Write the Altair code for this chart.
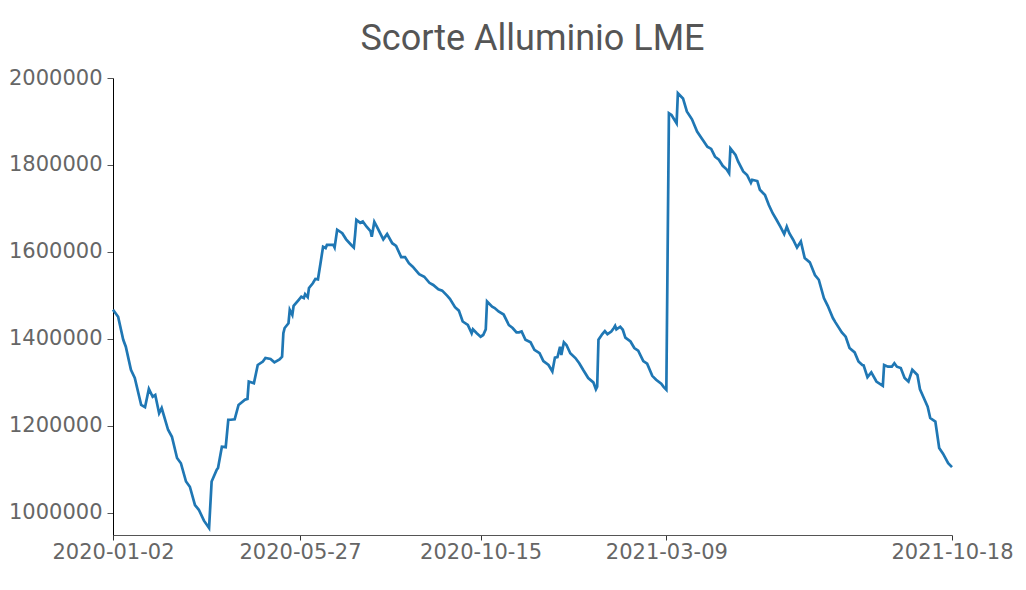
import altair as alt
import pandas as pd

# days since 2020-01-02 and LME aluminium stocks (tonnes)
days = [0, 4, 8, 10, 14, 17, 22, 25, 28, 31, 33, 36, 38, 43, 46, 50, 53, 57, 60, 64,
        67, 71, 75, 77, 81, 82, 85, 88, 90, 92, 95, 98, 103, 105, 106, 110, 113, 117, 119, 123,
        126, 130, 132, 133, 134, 137, 138, 140, 141, 145, 147, 149, 150, 152, 153, 156, 158, 160, 162, 164,
        166, 167, 169, 172, 173, 175, 179, 182, 186, 188, 189, 190, 193, 195, 198, 201, 202, 204, 206, 211,
        214, 218, 221, 225, 228, 231, 234, 239, 243, 247, 250, 254, 257, 261, 263, 267, 270, 273, 277, 280,
        281, 284, 287, 289, 291, 292, 296, 298, 301, 305, 309, 312, 315, 317, 319, 322, 326, 329, 333, 336,
        340, 343, 345, 347, 349, 350, 352, 354, 357, 361, 364, 367, 371, 375, 377, 378, 379, 382, 384, 386,
        389, 391, 392, 393, 396, 398, 400, 404, 407, 410, 414, 417, 421, 424, 428, 430, 432, 434, 436, 440,
        441, 445, 448, 452, 456, 459, 461, 464, 467, 470, 473, 476, 479, 481, 482, 486, 488, 492, 495, 498,
        499, 503, 505, 509, 512, 515, 518, 521, 524, 526, 528, 531, 534, 537, 540, 544, 548, 551, 555, 558,
        562, 564, 569, 572, 575, 579, 582, 585, 586, 589, 592, 596, 601, 602, 605, 608, 610, 612, 615, 618,
        621, 624, 628, 630, 633, 636, 638, 642, 645, 648, 652, 655]

stocks = [1467000, 1451000, 1398000, 1382000, 1329000, 1310000, 1248000, 1243000, 1285000, 1267000,
          1271000, 1229000, 1241000, 1191000, 1175000, 1126000, 1114000, 1072000, 1060000, 1018000,
          1007000, 982000, 965000, 1072000, 1099000, 1103000, 1152000, 1151000, 1214000, 1214000,
          1215000, 1248000, 1260000, 1262000, 1302000, 1298000, 1340000, 1348000, 1356000, 1354000,
          1346000, 1353000, 1359000, 1413000, 1425000, 1436000, 1467000, 1455000, 1476000, 1490000,
          1497000, 1494000, 1503000, 1496000, 1517000, 1528000, 1538000, 1537000, 1574000, 1612000,
          1609000, 1616000, 1616000, 1616000, 1610000, 1651000, 1643000, 1629000, 1616000, 1610000,
          1639000, 1674000, 1667000, 1670000, 1658000, 1648000, 1635000, 1669000, 1658000, 1629000,
          1641000, 1620000, 1614000, 1588000, 1588000, 1574000, 1566000, 1549000, 1543000, 1529000,
          1524000, 1514000, 1511000, 1499000, 1492000, 1473000, 1465000, 1440000, 1432000, 1413000,
          1422000, 1413000, 1405000, 1409000, 1422000, 1486000, 1474000, 1471000, 1463000, 1456000,
          1432000, 1425000, 1415000, 1415000, 1417000, 1398000, 1392000, 1375000, 1367000, 1349000,
          1340000, 1325000, 1357000, 1358000, 1382000, 1363000, 1392000, 1386000, 1367000, 1356000,
          1344000, 1329000, 1310000, 1300000, 1284000, 1290000, 1398000, 1411000, 1418000, 1411000,
          1417000, 1425000, 1430000, 1422000, 1428000, 1421000, 1403000, 1394000, 1379000, 1373000,
          1349000, 1343000, 1315000, 1306000, 1297000, 1289000, 1283000, 1919000, 1915000, 1896000,
          1965000, 1953000, 1923000, 1905000, 1877000, 1864000, 1855000, 1842000, 1837000, 1819000,
          1812000, 1798000, 1790000, 1781000, 1838000, 1823000, 1808000, 1785000, 1777000, 1759000,
          1766000, 1763000, 1743000, 1731000, 1708000, 1689000, 1674000, 1658000, 1641000, 1658000,
          1643000, 1628000, 1610000, 1624000, 1586000, 1576000, 1547000, 1536000, 1494000, 1476000,
          1448000, 1438000, 1415000, 1405000, 1379000, 1369000, 1348000, 1340000, 1339000, 1312000,
          1323000, 1302000, 1292000, 1340000, 1336000, 1336000, 1344000, 1336000, 1333000, 1310000,
          1302000, 1329000, 1317000, 1284000, 1264000, 1244000, 1218000, 1210000, 1149000, 1136000,
          1114000, 1105000]

tick_dates = [(2020, 1, 2), (2020, 5, 27), (2020, 10, 15), (2021, 3, 9), (2021, 10, 18)]
y_ticks = [1000000, 1200000, 1400000, 1600000, 1800000, 2000000]

df = pd.DataFrame({
    "date": pd.Timestamp("2020-01-02") + pd.to_timedelta(days, unit="D"),
    "stock": stocks,
})

def dt(t):
    return alt.DateTime(year=t[0], month=t[1], date=t[2])

chart = alt.Chart(df).mark_line(color="#1f77b4", strokeWidth=2.7).encode(
    x=alt.X("date:T",
            scale=alt.Scale(domain=[dt(tick_dates[0]), dt(tick_dates[-1])], nice=False),
            axis=alt.Axis(values=[dt(t) for t in tick_dates], format="%Y-%m-%d", title=None,
                          grid=False, labelFont="DejaVu Sans", labelFontSize=21,
                          labelColor="#666666", domainColor="#555555", tickColor="#333333",
                          tickSize=5, labelPadding=1, labelFlush=False, labelOverlap=False)),
    y=alt.Y("stock:Q",
            scale=alt.Scale(domain=[949000, 2000000], nice=False, zero=False),
            axis=alt.Axis(values=y_ticks, format="d", title=None, grid=False,
                          labelFont="DejaVu Sans", labelFontSize=21, labelColor="#666666",
                          domainColor="#000000", tickColor="#555555", tickSize=6,
                          labelPadding=5)),
).properties(
    width=839, height=457,
    title=alt.TitleParams("Scorte Alluminio LME", font="Roboto", fontSize=36,
                          color="#555555", fontWeight="normal", anchor="middle", offset=9),
    padding={"left": 105, "top": 70, "right": 66, "bottom": 47},
    autosize="none",
).configure_view(stroke=None)

chart.save("out.html", embed_options={"renderer": "svg", "actions": False})
